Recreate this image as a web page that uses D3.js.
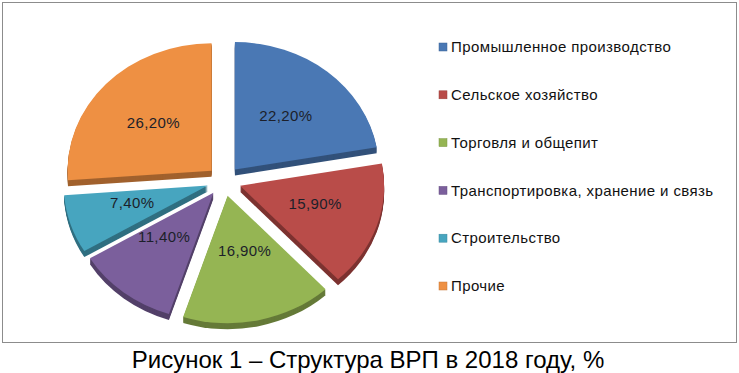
<!DOCTYPE html>
<html>
<head>
<meta charset="utf-8">
<script src="https://cdn.jsdelivr.net/npm/d3@7"></script>
<style>
  body { margin: 0; background: #fff; }
  svg { display: block; font-family: Arial, "Liberation Sans", sans-serif; }
</style>
</head>
<body>
<script>
// data
let categories = ['Промышленное производство', 'Сельское хозяйство', 'Торговля и общепит',
                  'Транспортировка, хранение и связь', 'Строительство', 'Прочие'];
let values = [22.2, 15.9, 16.9, 11.4, 7.4, 26.2];
let valueLabels = ['22,20%', '15,90%', '16,90%', '11,40%', '7,40%', '26,20%'];
let colors = ['#4a78b4', '#b94c49', '#95b553', '#7b5f9c', '#47a5bf', '#ee9043'];
let caption = 'Рисунок 1 – Структура ВРП в 2018 году, %';

let W = 739, H = 373;
let cx = 224, cy = 181;      // pie centre
let R = 144;                 // radius (horizontal)
let tilt = 0.885;            // vertical squash
let explode = 17;
let depth = 6;

let svg = d3.select('body').append('svg')
  .attr('width', W).attr('height', H);

// chart frame
svg.append('rect')
  .attr('x', 2.5).attr('y', 2.5)
  .attr('width', 734).attr('height', 340)
  .attr('fill', '#fff').attr('stroke', '#8c8c8c').attr('stroke-width', 1);

let pie = d3.pie().sort(null).value(d => d);
let arcs = pie(values);
let arc = d3.arc().innerRadius(0).outerRadius(R);

// offset of each slice (exploded), screen coords
function shift(d) {
  let a = (d.startAngle + d.endAngle) / 2;
  return [Math.sin(a) * explode, -Math.cos(a) * explode * tilt];
}

let g = svg.append('g');

// sides (extrusion), drawn first
arcs.forEach(function(d, i) {
  let s = shift(d);
  let dark = d3.color(colors[i]).darker(1.1);
  for (let k = depth; k >= 1; k--) {
    g.append('path')
      .attr('d', arc(d))
      .attr('fill', dark)
      .attr('transform', 'translate(' + (cx + s[0]) + ',' + (cy + s[1] + k) + ') scale(1,' + tilt + ')');
  }
});

// top faces
g.selectAll('path.top')
  .data(arcs)
  .enter().append('path')
  .attr('class', 'top')
  .attr('d', arc)
  .attr('fill', (d, i) => colors[i])
  .attr('transform', function(d) {
    let s = shift(d);
    return 'translate(' + (cx + s[0]) + ',' + (cy + s[1]) + ') scale(1,' + tilt + ')';
  });

// value labels (front half sits a bit higher, like the perspective original)
let labelArc = d3.arc().innerRadius(R * 0.55).outerRadius(R * 0.55);
svg.selectAll('text.val')
  .data(arcs)
  .enter().append('text')
  .attr('class', 'val')
  .attr('x', function(d) { return cx + shift(d)[0] + labelArc.centroid(d)[0]; })
  .attr('y', function(d) {
    let c = labelArc.centroid(d);
    let f = c[1] > 0 ? tilt * 0.87 : tilt;
    return cy + shift(d)[1] * (c[1] > 0 ? 0.7 : 1) + c[1] * f;
  })
  .attr('dy', '0.35em')
  .attr('text-anchor', 'middle')
  .attr('font-size', 15)
  .attr('letter-spacing', 0.4)
  .attr('fill', '#1c1f2a')
  .text((d, i) => valueLabels[i]);

// legend
let ly = d3.scalePoint().domain(categories).range([47, 286]);
let legend = svg.selectAll('g.leg')
  .data(categories)
  .enter().append('g')
  .attr('class', 'leg')
  .attr('transform', d => 'translate(439,' + ly(d) + ')');

legend.append('rect')
  .attr('x', 0).attr('y', -4)
  .attr('width', 8).attr('height', 8)
  .attr('fill', (d, i) => colors[i])
  .attr('stroke', (d, i) => d3.color(colors[i]).darker(0.5)).attr('stroke-width', 0.5);

legend.append('text')
  .attr('x', 12).attr('dy', '0.35em')
  .attr('font-size', 15)
  .attr('letter-spacing', 0.4)
  .attr('fill', '#111')
  .text(d => d);

// caption
svg.append('text')
  .attr('x', 368).attr('y', 368)
  .attr('text-anchor', 'middle')
  .attr('font-size', 24)
  .attr('fill', '#000')
  .text(caption);
</script>
</body>
</html>
